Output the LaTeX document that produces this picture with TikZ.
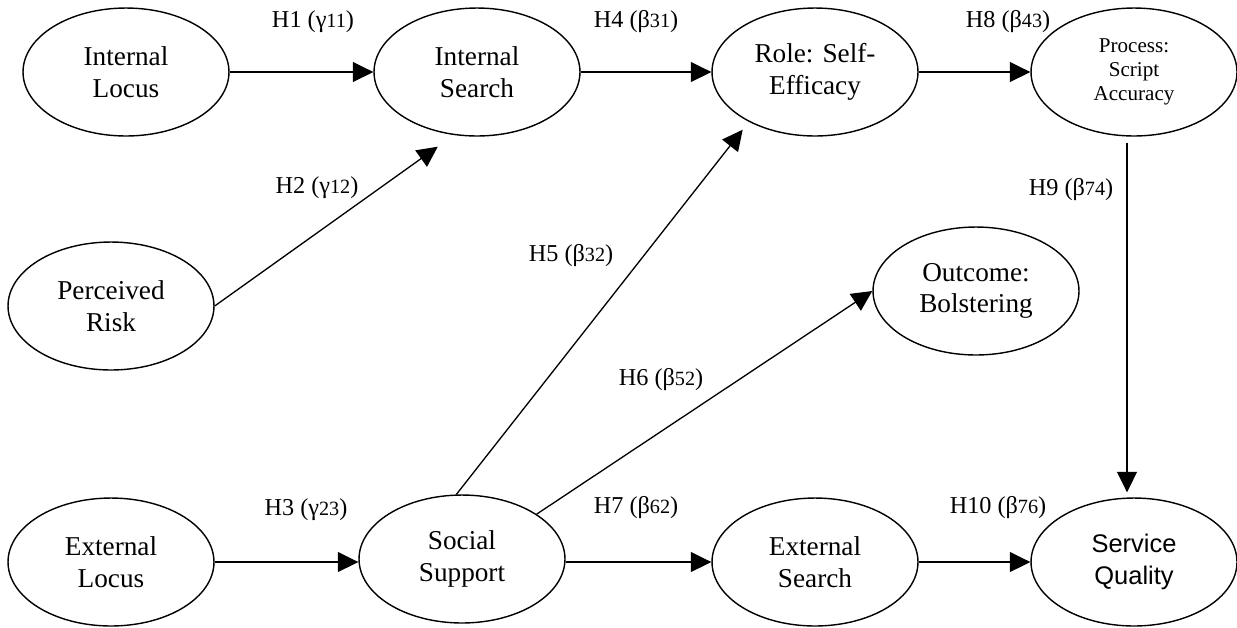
\documentclass[tikz,border=0pt]{standalone}
\usepackage{fontspec}
\setmainfont{Liberation Serif}
\newfontfamily\arialfont{Liberation Sans}
\usepackage{tikz}
\usetikzlibrary{shapes.geometric,arrows.meta}
\tikzstyle{arrow} = [-{Triangle[length=0.41cm,width=0.4cm]},line width=0.75pt]
\tikzstyle{construct} = [draw,ellipse,line width=0.8pt,minimum width=4.12cm,minimum height=2.56cm,inner sep=0pt,align=center,font=\fontsize{15.5}{18}\selectfont]
\tikzstyle{hyp} = [inner sep=0pt,font=\fontsize{13.8}{15}\selectfont]
\newcommand{\coef}[2]{#1{\fontsize{11.5}{12}\selectfont #2}}

\begin{document}
\begin{tikzpicture}[x=0.02cm,y=-0.02cm]
        \useasboundingbox (0,0) rectangle (1237,627);
        \node[construct] at (126,72) (il) {Internal\\Locus};
        \node[construct] at (477,72) (is) {Internal\\Search};
        \node[construct] at (815,72) (role) {Role: Self-\\Efficacy};
        \node[construct, font=\fontsize{12}{13.7}\selectfont] at (1134,72) (proc) {Process:\\Script\\Accuracy};
        \node[construct] at (111,306) (risk) {Perceived\\Risk};
        \node[construct] at (976,291) (outc) {Outcome:\\Bolstering};
        \node[construct] at (111,562) (el) {External\\Locus};
        \node[construct] at (462,559) (ss) {Social\\Support};
        \node[construct] at (815,562) (es) {External\\Search};
        \node[construct, font=\arialfont\fontsize{14.5}{18}\selectfont] at (1134,562) (sq) {Service\\Quality};

        \draw[arrow] (il) -- (is);
        \draw[arrow, shorten >=0.4cm] (risk.east) -- (is.-110);
        \draw[arrow] (el.east) -- (el.east -| ss.west);
        \draw[arrow] (is) -- (role);
        \draw[arrow, shorten >=0.2cm] (ss.95) -- (role.217);
        \draw[arrow] (ss.31) -- (outc.west);
        \draw[arrow] (ss.east |- es.west) -- (es.west);
        \draw[arrow] (role) -- (proc);
        \draw[arrow, shorten <=0.12cm, shorten >=0.1cm] ([xshift=-0.14cm]proc.south) -- ([xshift=-0.14cm]sq.north);
        \draw[arrow] (es) -- (sq);

        \node[hyp] at (313,22) (h1) {H1 (\coef{γ}{11})};
        \node[hyp] at (317,188) (h2) {H2 (\coef{γ}{12})};
        \node[hyp] at (306,510) (h3) {H3 (\coef{γ}{23})};
        \node[hyp] at (636,22) (h4) {H4 (\coef{β}{31})};
        \node[hyp] at (571,256) (h5) {H5 (\coef{β}{32})};
        \node[hyp] at (661,380) (h6) {H6 (\coef{β}{52})};
        \node[hyp] at (636,508) (h7) {H7 (\coef{β}{62})};
        \node[hyp] at (1008,22) (h8) {H8 (\coef{β}{43})};
        \node[hyp] at (1071,190) (h9) {H9 (\coef{β}{74})};
        \node[hyp] at (998,508) (h10) {H10 (\coef{β}{76})};

\end{tikzpicture}
\end{document}
